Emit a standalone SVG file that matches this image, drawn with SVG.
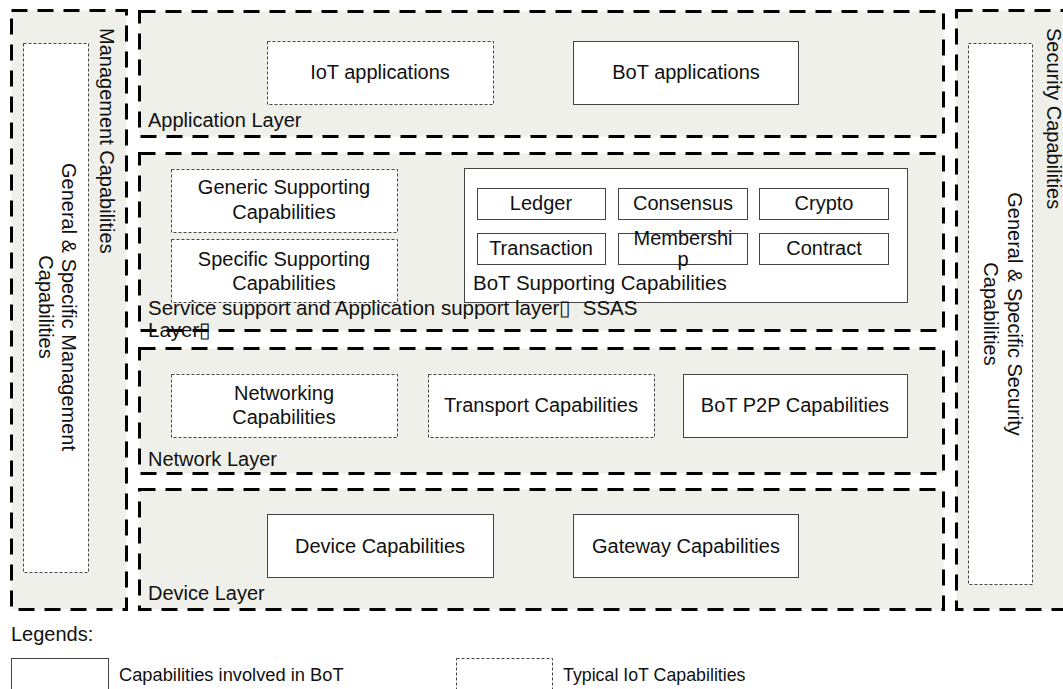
<svg xmlns="http://www.w3.org/2000/svg" width="1063" height="689" viewBox="0 0 1063 689">
  <style>
    text { font-family: "Liberation Sans", Arial, sans-serif; font-size: 20px; fill: #111; }
    .c { text-anchor: middle; }
    .small { font-size: 18px; }
    .wide { font-size: 20.5px; }
    .region { fill: #f0f0ea; stroke: #000; stroke-width: 3; stroke-dasharray: 16 10; }
    .bot { fill: #fff; stroke: #444; stroke-width: 1; }
    .iot { fill: #fff; stroke: #444; stroke-width: 1; stroke-dasharray: 3 2; }
  </style>
  <rect width="1063" height="689" fill="#fff"/>

  <!-- Management column (left) -->
  <g id="management">
    <rect class="region" x="11.5" y="10.5" width="115" height="599"/>
    <rect class="iot" x="23.5" y="43.5" width="65" height="529"/>
    <text transform="translate(100,28) rotate(90)">Management Capabilities</text>
    <text class="c" transform="translate(62,307) rotate(90)">General &amp; Specific Management</text>
    <text class="c" transform="translate(39,307) rotate(90)">Capabilities</text>
  </g>

  <!-- Security column (right) -->
  <g id="security">
    <rect class="region" x="956.5" y="10.5" width="120" height="599"/>
    <rect class="iot" x="968.5" y="43.5" width="64" height="541"/>
    <text transform="translate(1047,28) rotate(90)">Security Capabilities</text>
    <text class="c" transform="translate(1008,314) rotate(90)">General &amp; Specific Security</text>
    <text class="c" transform="translate(984,314) rotate(90)">Capabilities</text>
  </g>

  <!-- Application layer -->
  <g id="application-layer">
    <rect class="region" x="139.5" y="11.5" width="804" height="125"/>
    <text x="148" y="127">Application Layer</text>
  </g>
  <g id="iot-applications">
    <rect class="iot" x="267.5" y="41.5" width="226" height="63"/>
    <text class="c" x="380" y="79">IoT applications</text>
  </g>
  <g id="bot-applications">
    <rect class="bot" x="573.5" y="41.5" width="225" height="63"/>
    <text class="c" x="686" y="79">BoT applications</text>
  </g>

  <!-- Service support and application support layer -->
  <g id="ssas-layer">
    <rect class="region" x="139.5" y="153.5" width="804" height="177"/>
  </g>
  <g id="generic-supporting">
    <rect class="iot" x="171.5" y="169.5" width="226" height="63"/>
    <text class="c" x="284" y="194">Generic Supporting</text>
    <text class="c" x="284" y="219">Capabilities</text>
  </g>
  <g id="specific-supporting">
    <rect class="iot" x="171.5" y="239.5" width="226" height="63"/>
    <text class="c" x="284" y="266">Specific Supporting</text>
    <text class="c" x="284" y="290">Capabilities</text>
  </g>
  <g id="bot-supporting">
    <rect class="bot" x="464.5" y="168.5" width="443" height="134"/>
    <text x="473" y="290" style="font-size:20.5px">BoT Supporting Capabilities</text>
  </g>
  <g id="ledger">
    <rect class="bot" x="477.5" y="188.5" width="128" height="31"/>
    <text class="c" x="541" y="210">Ledger</text>
  </g>
  <g id="consensus">
    <rect class="bot" x="618.5" y="188.5" width="129" height="31"/>
    <text class="c" x="683" y="210">Consensus</text>
  </g>
  <g id="crypto">
    <rect class="bot" x="759.5" y="188.5" width="129" height="31"/>
    <text class="c" x="824" y="210">Crypto</text>
  </g>
  <g id="transaction">
    <rect class="bot" x="477.5" y="233.5" width="128" height="31"/>
    <text class="c" x="541" y="255">Transaction</text>
  </g>
  <g id="membership">
    <rect class="bot" x="618.5" y="233.5" width="129" height="31"/>
    <text class="c" x="683" y="245">Membershi</text>
    <text class="c" x="683" y="266">p</text>
  </g>
  <g id="contract">
    <rect class="bot" x="759.5" y="233.5" width="129" height="31"/>
    <text class="c" x="824" y="255">Contract</text>
  </g>
  <g id="ssas-label">
    <text class="wide" x="148" y="315">Service support and Application support layer▯&#160; SSAS</text>
    <text class="wide" x="148" y="337">Layer▯</text>
  </g>

  <!-- Network layer -->
  <g id="network-layer">
    <rect class="region" x="139.5" y="348.5" width="804" height="125"/>
    <text x="148" y="466">Network Layer</text>
  </g>
  <g id="networking">
    <rect class="iot" x="171.5" y="374.5" width="226" height="63"/>
    <text class="c" x="284" y="400">Networking</text>
    <text class="c" x="284" y="424">Capabilities</text>
  </g>
  <g id="transport">
    <rect class="iot" x="428.5" y="374.5" width="226" height="63"/>
    <text class="c" x="541" y="412">Transport Capabilities</text>
  </g>
  <g id="bot-p2p">
    <rect class="bot" x="683.5" y="374.5" width="224" height="63"/>
    <text class="c" x="795" y="412">BoT P2P Capabilities</text>
  </g>

  <!-- Device layer -->
  <g id="device-layer">
    <rect class="region" x="139.5" y="489.5" width="804" height="120"/>
    <text x="148" y="600">Device Layer</text>
  </g>
  <g id="device">
    <rect class="bot" x="267.5" y="514.5" width="226" height="63"/>
    <text class="c" x="380" y="553">Device Capabilities</text>
  </g>
  <g id="gateway">
    <rect class="bot" x="573.5" y="514.5" width="225" height="63"/>
    <text class="c" x="686" y="553">Gateway Capabilities</text>
  </g>

  <!-- Legend -->
  <g id="legend">
    <text x="11" y="641">Legends:</text>
    <rect class="bot" x="11.5" y="658.5" width="97" height="40"/>
    <text x="119" y="681" style="font-size:18.3px">Capabilities involved in BoT</text>
    <rect class="iot" x="456.5" y="658.5" width="96" height="40"/>
    <text class="small" x="563" y="681" style="font-size:17.8px">Typical IoT Capabilities</text>
  </g>
</svg>
